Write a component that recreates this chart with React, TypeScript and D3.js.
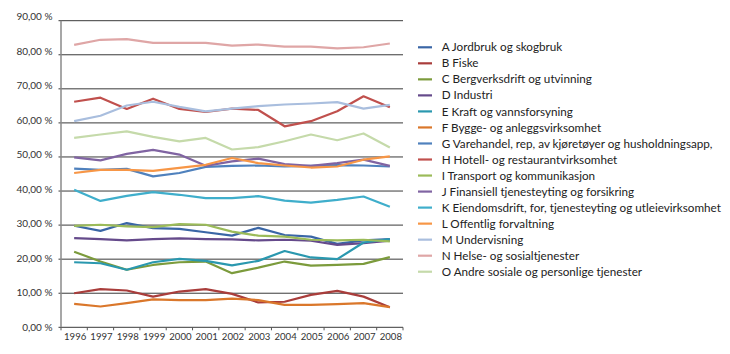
import React from "react";
import * as d3 from "d3";

const years = ["1996","1997","1998","1999","2000","2001","2002","2003","2004","2005","2006","2007","2008"];
const yTicks = [0, 10, 20, 30, 40, 50, 60, 70, 80, 90];

const names = [
  "A Jordbruk og skogbruk",
  "B Fiske",
  "C Bergverksdrift og utvinning",
  "D Industri",
  "E Kraft og vannsforsyning",
  "F Bygge- og anleggsvirksomhet",
  "G Varehandel, rep, av kjøretøyer og husholdningsapp,",
  "H Hotell- og restaurantvirksomhet",
  "I Transport og kommunikasjon",
  "J Finansiell tjenesteyting og forsikring",
  "K Eiendomsdrift, for, tjenesteyting og utleievirksomhet",
  "L Offentlig forvaltning",
  "M Undervisning",
  "N Helse- og sosialtjenester",
  "O Andre sosiale og personlige tjenester",
];

const colors = [
  "#3A66A6", "#A93D3B", "#7C9B3C", "#654A8B", "#2A98AF", "#DA772B",
  "#4F81BD", "#C0504D", "#9BBB59", "#8064A2", "#3FAECB", "#F79646",
  "#A9BEDE", "#DFA6A6", "#C5DAAA",
];

const sA = [29.8, 28.3, 30.6, 29.1, 28.9, 27.9, 26.9, 29.2, 27.1, 26.6, 24.5, 25.5, 25.9];
const sB = [10.0, 11.2, 10.8, 9.0, 10.5, 11.2, 9.8, 7.3, 7.5, 9.5, 10.7, 9.0, 5.9];
const sC = [22.2, 19.3, 16.9, 18.3, 19.1, 19.3, 15.9, 17.5, 19.3, 18.1, 18.3, 18.6, 20.6];
const sD = [26.2, 25.9, 25.5, 25.9, 26.1, 25.9, 25.8, 25.5, 25.7, 25.4, 24.2, 24.7, 25.4];
const sE = [19.1, 18.8, 16.9, 19.1, 20.1, 19.5, 18.2, 19.5, 22.4, 20.5, 20.0, 24.9, 25.9];
const sF = [6.9, 6.1, 7.1, 8.2, 8.0, 8.0, 8.4, 8.0, 6.6, 6.6, 6.8, 7.1, 5.9];
const sG = [46.6, 46.2, 46.5, 44.3, 45.3, 47.1, 47.4, 47.5, 47.2, 47.4, 47.6, 47.5, 47.2];
const sH = [66.2, 67.4, 64.1, 67.1, 64.1, 63.2, 64.2, 63.8, 59.0, 60.5, 63.4, 67.8, 64.6];
const sI = [29.8, 30.1, 29.6, 29.4, 30.3, 30.1, 28.1, 26.9, 26.6, 25.7, 25.5, 25.7, 25.2];
const sJ = [49.9, 49.0, 50.9, 52.1, 50.7, 47.4, 48.7, 49.5, 47.9, 47.4, 48.2, 49.2, 47.4];
const sK = [40.4, 37.1, 38.6, 39.7, 38.9, 37.9, 37.9, 38.5, 37.2, 36.6, 37.4, 38.4, 35.4];
const sL = [45.3, 46.2, 46.2, 45.9, 46.8, 47.7, 49.7, 48.2, 47.5, 46.9, 47.2, 49.2, 50.2];
const sM = [60.5, 62.1, 65.1, 66.2, 64.7, 63.4, 64.2, 64.9, 65.4, 65.7, 66.1, 64.2, 65.3];
const sN = [82.9, 84.4, 84.6, 83.5, 83.5, 83.5, 82.7, 83.0, 82.4, 82.4, 81.9, 82.2, 83.3];
const sO = [55.6, 56.6, 57.5, 55.9, 54.6, 55.6, 52.2, 52.9, 54.6, 56.6, 54.9, 56.9, 52.8];

const series = [sA, sB, sC, sD, sE, sF, sG, sH, sI, sJ, sK, sL, sM, sN, sO];

const W = 730, H = 354;
const left = 61, right = 403, top = 20.7, bottom = 327.3;
const FONT = "Lato, 'Open Sans', sans-serif";

export default function App() {
  const x = d3.scaleBand<string>().domain(years).range([left, right]).padding(0);
  const bw = x.bandwidth();
  const cx = (yr: string) => (x(yr) as number) + bw / 2;
  const y = d3.scaleLinear().domain([0, 90]).range([bottom, top]);
  const yLab = d3.scaleLinear().domain([0, 90]).range([bottom, 16.7]);
  const line = d3.line<number>().x((_, i) => cx(years[i])).y((d) => y(d));

  const fmt = (v: number) => v.toFixed(2).replace(".", ",") + " %";

  const legX = 418, legY0 = 47.3, legDy = 16.03;

  return (
    <svg width={W} height={H} style={{ position: "absolute", left: 0, top: 0, background: "#fff" }}>
      {yTicks.map((t) => (
        <line key={"g" + t} x1={left - 2.5} x2={right} y1={y(t)} y2={y(t)} stroke="#3a3a3a" strokeWidth={1} />
      ))}
      {yTicks.map((t) => (
        <text key={"yl" + t} x={52.5} y={yLab(t)} dy="0.35em" textAnchor="end" fontFamily={FONT} fontSize={10} fill="#333">
          {fmt(t)}
        </text>
      ))}
      <line x1={left} x2={left} y1={top} y2={bottom} stroke="#8a8a8a" strokeWidth={1.5} />
      {years.concat(["end"]).map((yr, i) => {
        const xx = left + i * bw;
        return <line key={"xt" + i} x1={xx} x2={xx} y1={bottom} y2={bottom + 3} stroke="#555" strokeWidth={1} />;
      })}
      {years.map((yr) => (
        <text key={"xl" + yr} x={cx(yr) + 1} y={340} textAnchor="middle" fontFamily={FONT} fontSize={9.6} fill="#333">
          {yr}
        </text>
      ))}
      {series.map((s, i) => (
        <path key={"s" + i} d={line(s) as string} fill="none" stroke={colors[i]} strokeWidth={2.2} strokeLinejoin="round" />
      ))}
      {names.map((n, i) => {
        const ly = legY0 + i * legDy;
        return (
          <g key={"lg" + i}>
            <line x1={legX} x2={legX + 14} y1={ly} y2={ly} stroke={colors[i]} strokeWidth={2.2} />
            <text x={441.7} y={ly} dy="0.35em" fontFamily={FONT} fontSize={11.7} fill="#222">
              {n}
            </text>
          </g>
        );
      })}
    </svg>
  );
}
